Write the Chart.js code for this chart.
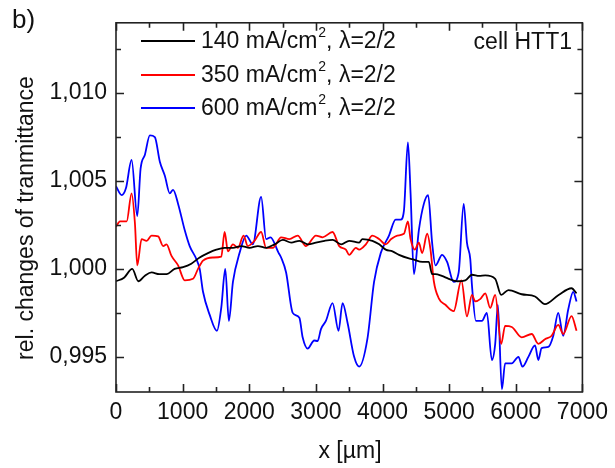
<!DOCTYPE html>
<html>
<head>
<meta charset="utf-8">
<script src="https://cdn.jsdelivr.net/npm/chart.js@4/dist/chart.umd.min.js"></script>
<style>
  body { margin: 0; background: #fff; }
  canvas { display: block; }
</style>
</head>
<body>
<canvas id="trans" width="615" height="468"></canvas>
<script>
// values (x in µm, y = relative transmittance)
const x140 = [0, 120, 244, 334, 430, 534, 650, 758, 880, 1007, 1130, 1256, 1380, 1506, 1630, 1755, 1880, 2004, 2130, 2253, 2380, 2503, 2630, 2752, 2880, 3001, 3130, 3250, 3380, 3500, 3649, 3699, 3848, 3950, 4048, 4150, 4248, 4396, 4447, 4600, 4695, 4744, 4795, 4890, 4993, 5120, 5243, 5342, 5450, 5542, 5691, 5781, 5890, 6089, 6289, 6438, 6637, 6837, 6912];
const y140 = [0.9993, 0.9995, 1.0000, 0.9993, 0.9996, 0.9998, 0.9997, 0.9997, 1.0000, 1.0001, 1.0003, 1.00065, 1.0009, 1.0011, 1.0012, 1.0012, 1.0013, 1.0012, 1.0013, 1.0012, 1.0014, 1.00165, 1.0015, 1.0016, 1.0014, 1.0015, 1.0016, 1.00165, 1.0014, 1.0016, 1.0015, 1.0017, 1.0016, 1.0014, 1.0011, 1.0010, 1.0008, 1.0006, 1.00056, 1.0004, 1.0004, 0.9997, 0.9997, 0.9996, 0.99944, 0.9993, 0.99935, 0.99967, 0.9996, 0.99963, 0.99944, 0.99852, 0.9988, 0.99856, 0.99843, 0.9980, 0.9985, 0.9989, 0.99861];

const x350 = [0, 60, 160, 234, 284, 319, 384, 459, 534, 633, 708, 758, 833, 932, 1032, 1156, 1231, 1306, 1456, 1580, 1630, 1680, 1755, 1830, 1914, 1978, 2078, 2178, 2253, 2353, 2478, 2602, 2727, 2851, 3001, 3101, 3250, 3350, 3450, 3500, 3600, 3649, 3750, 3848, 3948, 4048, 4130, 4222, 4321, 4381, 4421, 4485, 4545, 4595, 4670, 4720, 4770, 4844, 4944, 5068, 5183, 5267, 5342, 5392, 5470, 5542, 5616, 5691, 5781, 5840, 5940, 6089, 6239, 6338, 6438, 6538, 6637, 6712, 6837, 6912];
const y350 = [1.0024, 1.0027, 1.0027, 1.0043, 1.0026, 1.0002, 1.0017, 1.0016, 1.0019, 1.00185, 1.0013, 1.0014, 1.00074, 1.0002, 0.99935, 0.99944, 1.0000, 1.00047, 1.00065, 1.0007, 1.0021, 1.0010, 1.0014, 1.0012, 1.0019, 1.0013, 1.0016, 1.0021, 1.0012, 1.0012, 1.0018, 1.0017, 1.0019, 1.0013, 1.0019, 1.0018, 1.0021, 1.0013, 1.0011, 1.0008, 1.0012, 1.0011, 1.0014, 1.0019, 1.0017, 1.0014, 1.0017, 1.0019, 1.0020, 1.0027, 1.0017, 1.0011, 1.0015, 1.0009, 1.0020, 1.0011, 0.9993, 0.99833, 0.99796, 0.9976, 0.99935, 0.9973, 0.99852, 0.99815, 0.9983, 0.99861, 0.99778, 0.99852, 0.99574, 0.99676, 0.9967, 0.99611, 0.9963, 0.99574, 0.9960, 0.9962, 0.99682, 0.9963, 0.99732, 0.99648];

const x600 = [0, 85, 150, 234, 319, 369, 434, 508, 583, 658, 733, 807, 857, 932, 1032, 1106, 1206, 1256, 1306, 1405, 1515, 1580, 1640, 1694, 1755, 1854, 1954, 2053, 2178, 2253, 2318, 2442, 2478, 2553, 2652, 2752, 2801, 2876, 2975, 3026, 3076, 3150, 3250, 3340, 3400, 3475, 3574, 3649, 3773, 3873, 3973, 4097, 4197, 4272, 4321, 4381, 4421, 4471, 4545, 4620, 4685, 4744, 4795, 4894, 4969, 5068, 5143, 5218, 5267, 5317, 5342, 5402, 5492, 5566, 5641, 5691, 5731, 5791, 5840, 5940, 6040, 6100, 6189, 6289, 6338, 6388, 6488, 6563, 6637, 6712, 6787, 6862, 6912];
const y600 = [1.0047, 1.0042, 1.0046, 1.0062, 1.0030, 1.0057, 1.0065, 1.0076, 1.0075, 1.0061, 1.0053, 1.0043, 1.0045, 1.0037, 1.0022, 1.0013, 1.00056, 1.0000, 0.9987, 0.9974, 0.99648, 0.9978, 1.0000, 0.99704, 0.99926, 1.0009, 1.0019, 1.0014, 1.0041, 1.0017, 1.0018, 1.0009, 1.00065, 0.9998, 0.9975, 0.99722, 0.99611, 0.99547, 0.99593, 0.9959, 0.99658, 0.99704, 0.99806, 0.99648, 0.99806, 0.99694, 0.9950, 0.99444, 0.99602, 0.99926, 1.0009, 1.0019, 1.0028, 1.0028, 1.0033, 1.0072, 1.0043, 0.9997, 1.0022, 1.0037, 1.0042, 1.0015, 1.0002, 1.0008, 1.0004, 0.99926, 0.9998, 1.0037, 1.0015, 1.00056, 0.99908, 0.99704, 0.99704, 0.9975, 0.99482, 0.99574, 0.99796, 0.99315, 0.99463, 0.99463, 0.9950, 0.99444, 0.9950, 0.99565, 0.99482, 0.9955, 0.99556, 0.9962, 0.9975, 0.9962, 0.99769, 0.9987, 0.99815];

const seriesLabels = ["140 mA/cm², λ=2/2", "350 mA/cm², λ=2/2", "600 mA/cm², λ=2/2"];
const seriesColors = ["#000000", "#ff0000", "#0000ff"];
const xTicks = [0, 1000, 2000, 3000, 4000, 5000, 6000, 7000];
const yTicks = [0.995, 1.000, 1.005, 1.010];

const FONT = '"Liberation Sans", Arial, Helvetica, sans-serif';

function zip(xs, ys) {
    return xs.map((x, i) => ({ x: x, y: ys[i] }));
}

// frame, inward ticks (major + minor on all four sides) and the texts
const decorations = {
    id: "decorations",
    afterDraw(chart) {
        const ctx = chart.ctx;
        const a = chart.chartArea;
        const xs = chart.scales.x;
        const ys = chart.scales.y;
        ctx.save();
        ctx.strokeStyle = "#222";
        ctx.lineWidth = 1.6;
        ctx.strokeRect(a.left, a.top, a.right - a.left, a.bottom - a.top);

        ctx.beginPath();
        for (let v = 0; v <= 7000; v += 500) {
            const px = Math.round(xs.getPixelForValue(v)) + 0.5;
            const len = v % 1000 === 0 ? 8 : 5;
            ctx.moveTo(px, a.bottom); ctx.lineTo(px, a.bottom - len);
            ctx.moveTo(px, a.top); ctx.lineTo(px, a.top + len);
        }
        for (let k = 0; k <= 8; k++) {
            const v = 0.9925 + k * 0.0025;
            if (v < ys.min || v > ys.max) continue;
            const py = Math.round(ys.getPixelForValue(v)) + 0.5;
            const len = k % 2 === 1 ? 8 : 5;
            ctx.moveTo(a.left, py); ctx.lineTo(a.left + len, py);
            ctx.moveTo(a.right, py); ctx.lineTo(a.right - len, py);
        }
        ctx.stroke();

        // legend inside the plot, with a raised "2"
        ctx.fillStyle = "#111";
        ctx.textBaseline = "middle";
        const rows = [41, 75, 108];
        chart.data.datasets.forEach((ds, i) => {
            const y = rows[i];
            ctx.strokeStyle = ds.borderColor;
            ctx.lineWidth = 1.8;
            ctx.beginPath();
            ctx.moveTo(141, y); ctx.lineTo(195, y);
            ctx.stroke();
            const parts = ds.label.split("²");
            let x = 201;
            ctx.font = "23px " + FONT;
            ctx.textAlign = "left";
            ctx.fillText(parts[0], x, y + 1);
            x += ctx.measureText(parts[0]).width;
            ctx.font = "14px " + FONT;
            ctx.fillText("2", x + 1, y - 8);
            x += ctx.measureText("2").width + 1;
            ctx.font = "23px " + FONT;
            ctx.fillText(parts[1], x, y + 1);
        });

        ctx.font = "23px " + FONT;
        ctx.textAlign = "right";
        ctx.fillText("cell HTT1", 572, 43);

        ctx.font = "26px " + FONT;
        ctx.textAlign = "left";
        ctx.fillText("b)", 12, 21);

        ctx.font = "23px " + FONT;
        ctx.textAlign = "center";
        ctx.fillText("x [µm]", 350, 452);

        ctx.translate(27, 218);
        ctx.rotate(-Math.PI / 2);
        ctx.fillText("rel. changes of tranmittance", 0, 0);
        ctx.restore();
    }
};

new Chart(document.getElementById("trans").getContext("2d"), {
    type: "line",
    data: {
        datasets: [
            { label: seriesLabels[0], data: zip(x140, y140), borderColor: seriesColors[0] },
            { label: seriesLabels[1], data: zip(x350, y350), borderColor: seriesColors[1] },
            { label: seriesLabels[2], data: zip(x600, y600), borderColor: seriesColors[2] }
        ]
    },
    options: {
        responsive: false,
        animation: false,
        devicePixelRatio: 1,
        layout: { padding: { left: 0, top: 15, right: 31, bottom: 0 } },
        elements: {
            point: { radius: 0 },
            line: { borderWidth: 1.8, cubicInterpolationMode: "monotone", fill: false }
        },
        plugins: { legend: { display: false }, tooltip: { enabled: false } },
        scales: {
            x: {
                type: "linear",
                min: 0,
                max: 7000,
                afterBuildTicks: s => { s.ticks = xTicks.map(v => ({ value: v })); },
                afterFit: s => { s.height = 76; },
                grid: { display: false, drawTicks: false },
                border: { display: false },
                ticks: {
                    color: "#111",
                    font: { family: FONT, size: 23 },
                    padding: 7,
                    maxRotation: 0,
                    callback: v => String(v)
                }
            },
            y: {
                type: "linear",
                min: 0.993,
                max: 1.014,
                afterBuildTicks: s => { s.ticks = yTicks.map(v => ({ value: v })); },
                afterFit: s => { s.width = 116; },
                grid: { display: false, drawTicks: false },
                border: { display: false },
                ticks: {
                    color: "#111",
                    font: { family: FONT, size: 23 },
                    padding: 9,
                    callback: v => v.toFixed(3).replace(".", ",")
                }
            }
        }
    },
    plugins: [decorations]
});
</script>
</body>
</html>
